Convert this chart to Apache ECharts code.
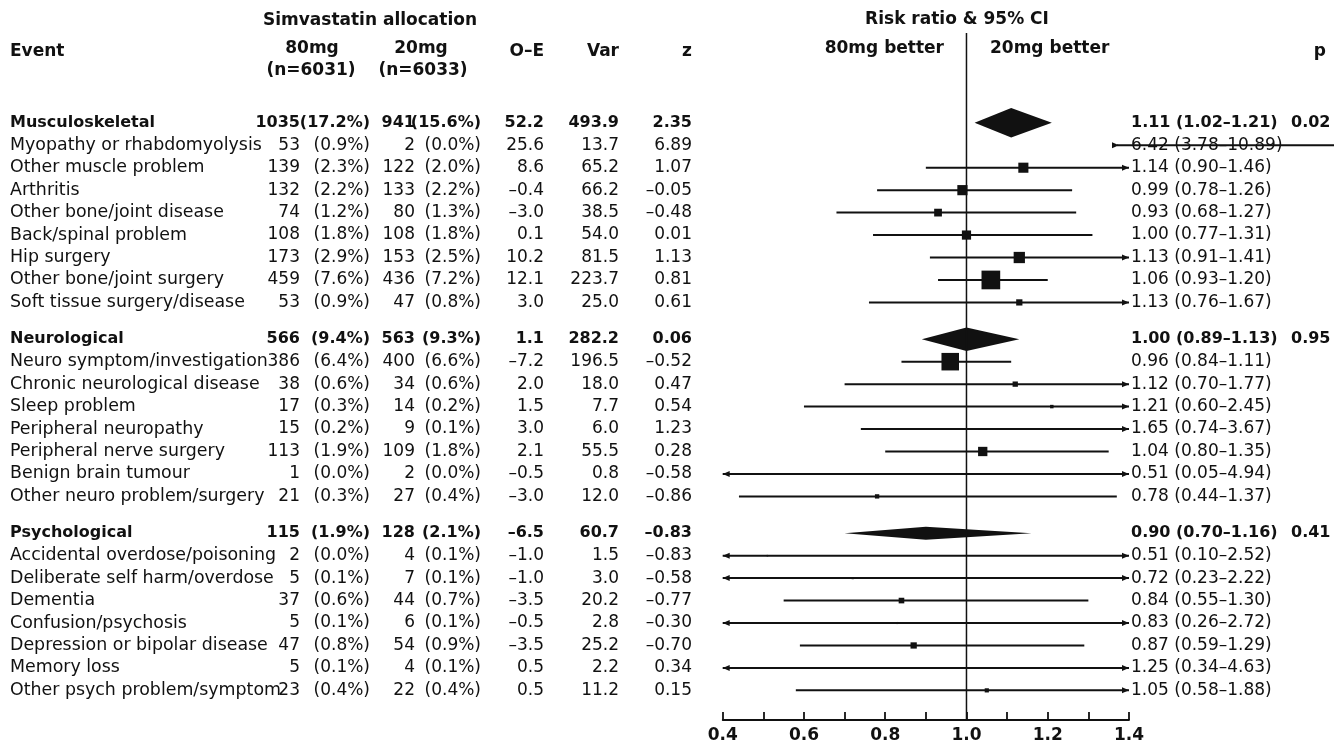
<!DOCTYPE html>
<html>
<head>
<meta charset="utf-8">
<script src="https://cdn.jsdelivr.net/npm/echarts@6/dist/echarts.min.js"></script>
<style>
  html, body { margin: 0; padding: 0; background: #ffffff; }
  #chart { width: 1334px; height: 744px; }
</style>
</head>
<body>
<div id="chart"></div>
<script>
// ---- Event rows (group header rows are the pooled summaries) ----
const events = [
  'Musculoskeletal', 'Myopathy or rhabdomyolysis', 'Other muscle problem', 'Arthritis',
  'Other bone/joint disease', 'Back/spinal problem', 'Hip surgery', 'Other bone/joint surgery',
  'Soft tissue surgery/disease',
  'Neurological', 'Neuro symptom/investigation', 'Chronic neurological disease', 'Sleep problem',
  'Peripheral neuropathy', 'Peripheral nerve surgery', 'Benign brain tumour', 'Other neuro problem/surgery',
  'Psychological', 'Accidental overdose/poisoning', 'Deliberate self harm/overdose', 'Dementia',
  'Confusion/psychosis', 'Depression or bipolar disease', 'Memory loss', 'Other psych problem/symptom'
];
const groupOf    = [0,0,0,0,0,0,0,0,0, 1,1,1,1,1,1,1,1, 2,2,2,2,2,2,2,2];
const summaryRow = [1,0,0,0,0,0,0,0,0, 1,0,0,0,0,0,0,0, 1,0,0,0,0,0,0,0];

// ---- Simvastatin 80mg (n=6031) ----
const n80   = [1035, 53, 139, 132, 74, 108, 173, 459, 53,  566, 386, 38, 17, 15, 113, 1, 21,  115, 2, 5, 37, 5, 47, 5, 23];
const pct80 = [17.2, 0.9, 2.3, 2.2, 1.2, 1.8, 2.9, 7.6, 0.9,  9.4, 6.4, 0.6, 0.3, 0.2, 1.9, 0.0, 0.3,  1.9, 0.0, 0.1, 0.6, 0.1, 0.8, 0.1, 0.4];

// ---- Simvastatin 20mg (n=6033) ----
const n20   = [941, 2, 122, 133, 80, 108, 153, 436, 47,  563, 400, 34, 14, 9, 109, 2, 27,  128, 4, 7, 44, 6, 54, 4, 22];
const pct20 = [15.6, 0.0, 2.0, 2.2, 1.3, 1.8, 2.5, 7.2, 0.8,  9.3, 6.6, 0.6, 0.2, 0.1, 1.8, 0.0, 0.4,  2.1, 0.1, 0.1, 0.7, 0.1, 0.9, 0.1, 0.4];

// ---- Log-rank statistics ----
const oMinusE  = [52.2, 25.6, 8.6, -0.4, -3.0, 0.1, 10.2, 12.1, 3.0,  1.1, -7.2, 2.0, 1.5, 3.0, 2.1, -0.5, -3.0,  -6.5, -1.0, -1.0, -3.5, -0.5, -3.5, 0.5, 0.5];
const variance = [493.9, 13.7, 65.2, 66.2, 38.5, 54.0, 81.5, 223.7, 25.0,  282.2, 196.5, 18.0, 7.7, 6.0, 55.5, 0.8, 12.0,  60.7, 1.5, 3.0, 20.2, 2.8, 25.2, 2.2, 11.2];
const zScore   = [2.35, 6.89, 1.07, -0.05, -0.48, 0.01, 1.13, 0.81, 0.61,  0.06, -0.52, 0.47, 0.54, 1.23, 0.28, -0.58, -0.86,  -0.83, -0.83, -0.58, -0.77, -0.30, -0.70, 0.34, 0.15];

// ---- Risk ratio & 95% CI ----
const rr     = [1.11, 6.42, 1.14, 0.99, 0.93, 1.00, 1.13, 1.06, 1.13,  1.00, 0.96, 1.12, 1.21, 1.65, 1.04, 0.51, 0.78,  0.90, 0.51, 0.72, 0.84, 0.83, 0.87, 1.25, 1.05];
const rrLow  = [1.02, 3.78, 0.90, 0.78, 0.68, 0.77, 0.91, 0.93, 0.76,  0.89, 0.84, 0.70, 0.60, 0.74, 0.80, 0.05, 0.44,  0.70, 0.10, 0.23, 0.55, 0.26, 0.59, 0.34, 0.58];
const rrHigh = [1.21, 10.89, 1.46, 1.26, 1.27, 1.31, 1.41, 1.20, 1.67,  1.13, 1.11, 1.77, 2.45, 3.67, 1.35, 4.94, 1.37,  1.16, 2.52, 2.22, 1.30, 2.72, 1.29, 4.63, 1.88];
const pValue = [0.02, null, null, null, null, null, null, null, null,  0.95, null, null, null, null, null, null, null,  0.41, null, null, null, null, null, null, null];

// ---- Risk-ratio axis ----
const xMin = 0.4, xMax = 1.4, xStep = 0.1;
const xTickLabels = ['0.4', '0.6', '0.8', '1.0', '1.2', '1.4'];

// ---- Layout & style ----
const FONT = '"DejaVu Sans", Verdana, sans-serif';
const INK = '#111111';
const GROUP_GAP = 0.64;           // extra space between groups, in rows
const rowPos = events.map((_, i) => i + groupOf[i] * GROUP_GAP);
const Y_TOP = -4, Y_BOTTOM = 26.6;
const BOX_SCALE = 1.25;           // square side per sqrt(variance), px

const COL = { name: 10, n80: 300, p80: 370, n20: 415, p20: 481, oe: 544, v: 619, z: 692, rr: 1131, p: 1291 };

const minus = s => s.replace('-', '\u2013');
const f1 = v => minus(v.toFixed(1));
const f2 = v => minus(v.toFixed(2));

function txt(x, y, text, align, font) {
  return { type: 'text', style: { x, y, text, align, verticalAlign: 'middle', font, fill: INK } };
}

// Left-hand table and right-hand estimate text
function renderTable(params, api) {
  const i = api.value(0);
  const y = api.coord([xMin, rowPos[i]])[1];
  const bold = !!summaryRow[i];
  const font = bold ? 'bold 16px ' + FONT : '17px ' + FONT;
  const nameFont = bold ? font : '17.4px ' + FONT;
  const kids = [
    txt(COL.name, y, events[i], 'left', nameFont),
    txt(COL.n80, y, String(n80[i]), 'right', font),
    txt(COL.p80, y, '(' + pct80[i].toFixed(1) + '%)', 'right', font),
    txt(COL.n20, y, String(n20[i]), 'right', font),
    txt(COL.p20, y, '(' + pct20[i].toFixed(1) + '%)', 'right', font),
    txt(COL.oe, y, f1(oMinusE[i]), 'right', font),
    txt(COL.v, y, variance[i].toFixed(1), 'right', font),
    txt(COL.z, y, f2(zScore[i]), 'right', font),
    txt(COL.rr, y, rr[i].toFixed(2) + ' (' + rrLow[i].toFixed(2) + '\u2013' + rrHigh[i].toFixed(2) + ')', 'left', font)
  ];
  if (pValue[i] != null) kids.push(txt(COL.p, y, pValue[i].toFixed(2), 'left', font));
  return { type: 'group', children: kids };
}

function arrow(tipX, y, dir) {
  const L = 7, H = 3;
  return { type: 'polygon', shape: { points: [[tipX, y], [tipX - dir * L, y - H], [tipX - dir * L, y + H]] }, style: { fill: INK } };
}

// Squares, confidence intervals and summary diamonds
function renderForest(params, api) {
  const i = api.value(0);
  const pos = rowPos[i];
  const y = api.coord([1, pos])[1];
  const X = v => api.coord([v, pos])[0];
  const left = X(xMin), right = X(xMax);
  const kids = [];
  if (summaryRow[i]) {
    const h = 4 + 1.15 * Math.sqrt(variance[i]);
    kids.push({ type: 'polygon', shape: { points: [[X(rrLow[i]), y], [X(rr[i]), y - h / 2], [X(rrHigh[i]), y], [X(rr[i]), y + h / 2]] }, style: { fill: INK } });
    return { type: 'group', children: kids };
  }
  const lineStyle = { stroke: INK, lineWidth: 2 };
  if (rrLow[i] > xMax) {
    // whole interval lies beyond the axis: run off to the edge
    const x0 = right - 12;
    kids.push({ type: 'line', shape: { x1: x0, y1: y, x2: api.getWidth(), y2: y }, style: lineStyle });
    kids.push(arrow(x0 + 2, y, 1));
    return { type: 'group', children: kids };
  }
  const xl = X(Math.max(rrLow[i], xMin));
  const xr = X(Math.min(rrHigh[i], xMax));
  kids.push({ type: 'line', shape: { x1: xl, y1: y, x2: xr, y2: y }, style: lineStyle });
  if (rrLow[i] < xMin) kids.push(arrow(left, y, -1));
  if (rrHigh[i] > xMax) kids.push(arrow(right, y, 1));
  if (rr[i] >= xMin && rr[i] <= xMax) {
    const s = BOX_SCALE * Math.sqrt(variance[i]);
    kids.push({ type: 'rect', shape: { x: X(rr[i]) - s / 2, y: y - s / 2, width: s, height: s }, style: { fill: INK } });
  }
  return { type: 'group', children: kids };
}

const hdr = 'bold 17px ' + FONT;
const headerText = [
  ['Simvastatin allocation', 370, 21, 'center'],
  ['Event', 10, 52, 'left'],
  ['80mg', 312, 49, 'center'],
  ['(n=6031)', 311, 71, 'center'],
  ['20mg', 421, 49, 'center'],
  ['(n=6033)', 423, 71, 'center'],
  ['O\u2013E', 544, 52, 'right'],
  ['Var', 619, 52, 'right'],
  ['z', 692, 52, 'right'],
  ['Risk ratio & 95% CI', 957, 20, 'center'],
  ['80mg better', 944, 49, 'right'],
  ['20mg better', 990, 49, 'left'],
  ['p', 1326, 52, 'right']
];

const rowIdx = events.map((_, i) => [i]);

const option = {
  animation: false,
  backgroundColor: '#ffffff',
  grid: { left: 722.7, right: 205, top: 33, bottom: 23, containLabel: false },
  xAxis: {
    type: 'value', min: xMin, max: xMax, interval: xStep,
    splitLine: { show: false },
    axisLine: { show: true, onZero: false, lineStyle: { color: INK, width: 1.8 } },
    axisTick: { show: true, inside: true, length: 8, lineStyle: { color: INK, width: 1.8 } },
    axisLabel: {
      margin: 7, color: INK, fontFamily: FONT, fontWeight: 'bold', fontSize: 17,
      formatter: v => { const s = v.toFixed(1); return xTickLabels.includes(s) ? s : ''; }
    }
  },
  yAxis: { type: 'value', inverse: true, min: Y_TOP, max: Y_BOTTOM, show: false },
  graphic: headerText.map(([text, x, y, align]) => ({
    type: 'text', silent: true,
    style: { x, y, text, align, verticalAlign: 'middle', font: hdr, fill: INK }
  })),
  series: [
    {
      type: 'line', data: [[1, Y_TOP], [1, Y_BOTTOM]], symbol: 'none', silent: true,
      lineStyle: { color: INK, width: 1.5 }
    },
    { type: 'custom', data: rowIdx, renderItem: renderForest, clip: false, silent: true },
    { type: 'custom', data: rowIdx, renderItem: renderTable, clip: false, silent: true }
  ]
};

const chart = echarts.init(document.getElementById('chart'));
chart.setOption(option);
</script>
</body>
</html>
